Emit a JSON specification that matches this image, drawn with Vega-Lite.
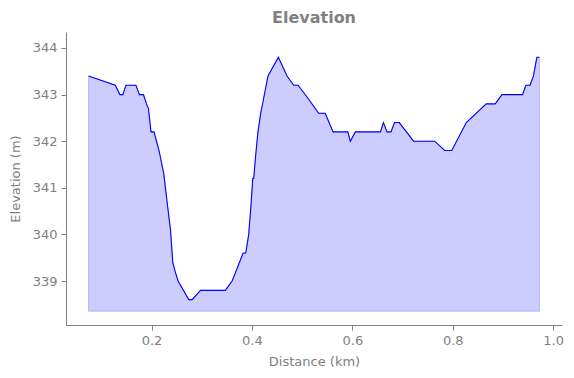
{
  "$schema": "https://vega.github.io/schema/vega-lite/v6.json",
  "width": 496,
  "height": 293,
  "autosize": "none",
  "padding": {"left": 66, "top": 32, "right": 12, "bottom": 53},
  "background": "white",
  "title": {"text": "Elevation", "font": "DejaVu Sans", "fontSize": 16, "fontWeight": "bold", "color": "#808080", "anchor": "middle", "offset": 6},
  "config": {
    "view": {"stroke": null},
    "axis": {
      "labelFont": "DejaVu Sans", "titleFont": "DejaVu Sans",
      "labelFontSize": 13, "titleFontSize": 13,
      "labelColor": "#808080", "titleColor": "#808080",
      "domainColor": "#808080", "tickColor": "#808080",
      "titleFontWeight": "normal", "grid": false,
      "tickSize": 5, "labelPadding": 3, "domainWidth": 1, "tickWidth": 1
    }
  },
  "data": {"values": [
    {"d": 0.0746, "e": 343.4},
    {"d": 0.128, "e": 343.2},
    {"d": 0.137, "e": 343.0},
    {"d": 0.143, "e": 343.0},
    {"d": 0.149, "e": 343.2},
    {"d": 0.169, "e": 343.2},
    {"d": 0.176, "e": 343.0},
    {"d": 0.184, "e": 343.0},
    {"d": 0.190, "e": 342.8},
    {"d": 0.194, "e": 342.7},
    {"d": 0.199, "e": 342.2},
    {"d": 0.205, "e": 342.2},
    {"d": 0.215, "e": 341.8},
    {"d": 0.2245, "e": 341.3},
    {"d": 0.231, "e": 340.7},
    {"d": 0.2378, "e": 340.1},
    {"d": 0.2424, "e": 339.4},
    {"d": 0.2472, "e": 339.2},
    {"d": 0.253, "e": 339.0},
    {"d": 0.2742, "e": 338.6},
    {"d": 0.281, "e": 338.6},
    {"d": 0.2975, "e": 338.8},
    {"d": 0.347, "e": 338.8},
    {"d": 0.3606, "e": 339.0},
    {"d": 0.3825, "e": 339.6},
    {"d": 0.3877, "e": 339.6},
    {"d": 0.3936, "e": 340.0},
    {"d": 0.398, "e": 340.6},
    {"d": 0.4016, "e": 341.2},
    {"d": 0.4035, "e": 341.2},
    {"d": 0.4075, "e": 341.7},
    {"d": 0.412, "e": 342.2},
    {"d": 0.4175, "e": 342.6},
    {"d": 0.423, "e": 342.9},
    {"d": 0.432, "e": 343.4},
    {"d": 0.4527, "e": 343.8},
    {"d": 0.470, "e": 343.4},
    {"d": 0.4832, "e": 343.2},
    {"d": 0.492, "e": 343.2},
    {"d": 0.509, "e": 342.96},
    {"d": 0.533, "e": 342.6},
    {"d": 0.546, "e": 342.6},
    {"d": 0.5616, "e": 342.2},
    {"d": 0.591, "e": 342.2},
    {"d": 0.596, "e": 342.0},
    {"d": 0.606, "e": 342.2},
    {"d": 0.656, "e": 342.2},
    {"d": 0.662, "e": 342.4},
    {"d": 0.669, "e": 342.2},
    {"d": 0.677, "e": 342.2},
    {"d": 0.684, "e": 342.4},
    {"d": 0.6935, "e": 342.4},
    {"d": 0.722, "e": 342.0},
    {"d": 0.764, "e": 342.0},
    {"d": 0.784, "e": 341.8},
    {"d": 0.798, "e": 341.8},
    {"d": 0.827, "e": 342.4},
    {"d": 0.8667, "e": 342.8},
    {"d": 0.8845, "e": 342.8},
    {"d": 0.898, "e": 343.0},
    {"d": 0.939, "e": 343.0},
    {"d": 0.9456, "e": 343.2},
    {"d": 0.954, "e": 343.2},
    {"d": 0.9607, "e": 343.4},
    {"d": 0.9675, "e": 343.8},
    {"d": 0.9727, "e": 343.8}
  ]},
  "encoding": {
    "x": {"field": "d", "type": "quantitative", "title": "Distance (km)",
      "scale": {"domain": [0.0297, 1.0176], "nice": false, "zero": false},
      "axis": {"values": [0.2, 0.4, 0.6, 0.8, 1.0], "format": ".1f", "labelPadding": 4, "titlePadding": 8}},
    "y": {"field": "e", "type": "quantitative", "title": "Elevation (m)",
      "scale": {"domain": [338.056, 344.343], "nice": false, "zero": false},
      "axis": {"values": [339, 340, 341, 342, 343, 344], "format": "d", "labelPadding": 4, "titlePadding": 10}}
  },
  "layer": [
    {"mark": {"type": "area", "color": "#0000ff", "fillOpacity": 0.2, "stroke": "#0000ff", "strokeOpacity": 0.2, "strokeWidth": 1},
     "encoding": {"y2": {"datum": 338.35}}},
    {"mark": {"type": "line", "color": "#0000ff", "strokeWidth": 1.1}}
  ]
}
